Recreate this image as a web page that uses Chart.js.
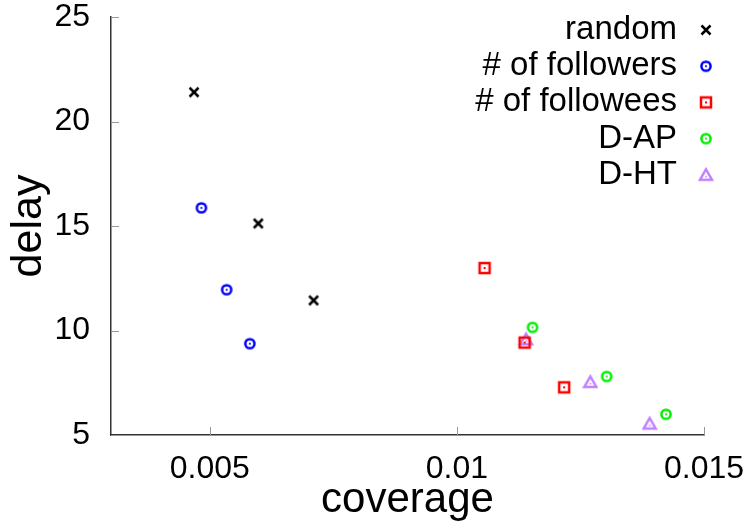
<!DOCTYPE html>
<html>
<head>
<meta charset="utf-8">
<script src="https://cdn.jsdelivr.net/npm/chart.js@4/dist/chart.umd.min.js"></script>
<style>
  html, body { margin: 0; padding: 0; background: #fff; }
  #wrap { width: 750px; height: 525px; }
</style>
</head>
<body>
<div id="wrap"><canvas id="delayChart" width="750" height="525"></canvas></div>
<script>
// series values (coverage, delay)
const randomX = [0.00468, 0.00598, 0.00710];
const randomY = [21.40, 15.12, 11.44];
const followersX = [0.00483, 0.00534, 0.00581];
const followersY = [15.87, 11.95, 9.37];
const followeesX = [0.01056, 0.01137, 0.01217];
const followeesY = [12.99, 9.42, 7.28];
const dapX = [0.01153, 0.01303, 0.01423];
const dapY = [10.15, 7.80, 5.99];
const dhtX = [0.01140, 0.01270, 0.01390];
const dhtY = [9.58, 7.54, 5.55];

const seriesNames = ['random', '# of followers', '# of followees', 'D-AP', 'D-HT'];

// tick labels
const xTickValues = [0.005, 0.01, 0.015];
const xTickLabels = ['0.005', '0.01', '0.015'];
const yTickLabels = ['5', '10', '15', '20', '25'];

const FONT = '"Liberation Sans", Arial, Helvetica, sans-serif';

function makeMarker(kind, color) {
    const c = document.createElement('canvas');
    c.width = 16;
    c.height = 16;
    const ctx = c.getContext('2d');
    ctx.strokeStyle = color;
    ctx.fillStyle = color;
    ctx.lineWidth = 2.5;
    if (kind === 'cross') {
        ctx.beginPath();
        ctx.moveTo(3.5, 3.5); ctx.lineTo(12.5, 12.5);
        ctx.moveTo(12.5, 3.5); ctx.lineTo(3.5, 12.5);
        ctx.stroke();
    } else if (kind === 'circle') {
        ctx.beginPath();
        ctx.arc(8, 8, 4.6, 0, Math.PI * 2);
        ctx.stroke();
        ctx.beginPath();
        ctx.arc(8, 8, 1.1, 0, Math.PI * 2);
        ctx.fill();
    } else if (kind === 'square') {
        ctx.strokeRect(3, 3, 10, 10);
        ctx.fillRect(7, 7, 2, 2);
    } else if (kind === 'triangle') {
        ctx.beginPath();
        ctx.moveTo(8, 2.5);
        ctx.lineTo(14, 13);
        ctx.lineTo(2, 13);
        ctx.closePath();
        ctx.stroke();
        ctx.fillRect(7.3, 9, 1.5, 1.5);
    }
    return c;
}

const markers = [
    makeMarker('cross', '#000000'),
    makeMarker('circle', '#0000ff'),
    makeMarker('square', '#ff0000'),
    makeMarker('circle', '#00ee00'),
    makeMarker('triangle', '#c080ff')
];

function toPoints(xs, ys) {
    return xs.map((x, i) => ({ x: x, y: ys[i] }));
}

const seriesData = [
    toPoints(randomX, randomY),
    toPoints(followersX, followersY),
    toPoints(followeesX, followeesY),
    toPoints(dapX, dapY),
    toPoints(dhtX, dhtY)
];

// short inward tick marks on both axes
const innerTicks = {
    id: 'innerTicks',
    afterDraw(chart) {
        const ctx = chart.ctx;
        const area = chart.chartArea;
        const x = chart.scales.x;
        const y = chart.scales.y;
        ctx.save();
        ctx.strokeStyle = '#999';
        ctx.lineWidth = 1;
        ctx.beginPath();
        x.ticks.forEach(t => {
            const px = Math.round(x.getPixelForValue(t.value)) + 0.5;
            ctx.moveTo(px, area.bottom);
            ctx.lineTo(px, area.bottom - 8);
        });
        y.ticks.forEach(t => {
            const py = Math.round(y.getPixelForValue(t.value)) + 0.5;
            ctx.moveTo(area.left, py);
            ctx.lineTo(area.left + 8, py);
        });
        ctx.stroke();
        ctx.restore();
    }
};

// legend in the top right corner, text right aligned, marker on the right
const cornerLegend = {
    id: 'cornerLegend',
    afterDraw(chart) {
        const ctx = chart.ctx;
        ctx.save();
        ctx.font = '33px ' + FONT;
        ctx.fillStyle = '#000';
        ctx.textAlign = 'right';
        ctx.textBaseline = 'middle';
        chart.data.datasets.forEach((ds, i) => {
            const rowY = 30 + i * 36.2;
            ctx.fillText(ds.label, 677, rowY);
            ctx.drawImage(ds.pointStyle, 706 - 8, rowY - 8);
        });
        ctx.restore();
    }
};

const canvas = document.getElementById('delayChart');

new Chart(canvas, {
    type: 'scatter',
    data: {
        datasets: seriesNames.map((name, i) => ({
            label: name,
            data: seriesData[i],
            pointStyle: markers[i],
            pointRadius: 6,
            showLine: false
        }))
    },
    options: {
        responsive: false,
        animation: false,
        layout: {
            padding: { top: 17, right: 46, bottom: 0, left: 0 }
        },
        plugins: {
            legend: { display: false },
            tooltip: { enabled: false }
        },
        scales: {
            x: {
                type: 'linear',
                min: 0.003,
                max: 0.015,
                afterBuildTicks: (scale) => {
                    scale.ticks = xTickValues.map(v => ({ value: v }));
                },
                afterFit: (scale) => {
                    scale.height = 90;
                    scale.paddingLeft = 0;
                    scale.paddingRight = 0;
                },
                grid: { display: false, drawTicks: false },
                border: { display: true, color: '#333', width: 1.5 },
                ticks: {
                    color: '#000',
                    padding: 18,
                    maxRotation: 0,
                    font: { family: FONT, size: 32, lineHeight: 1 },
                    callback: (value, index) => xTickLabels[index]
                },
                title: {
                    display: true,
                    text: 'coverage',
                    color: '#000',
                    padding: { top: 0, bottom: 3.5 },
                    font: { family: FONT, size: 42, lineHeight: 1 }
                }
            },
            y: {
                type: 'linear',
                min: 5,
                max: 25,
                afterFit: (scale) => {
                    scale.width = 111;
                    scale.paddingTop = 0;
                    scale.paddingBottom = 0;
                },
                grid: { display: false, drawTicks: false },
                border: { display: true, color: '#333', width: 1.5 },
                ticks: {
                    color: '#000',
                    padding: 21,
                    stepSize: 5,
                    font: { family: FONT, size: 32, lineHeight: 1 },
                    callback: (value, index) => yTickLabels[index]
                },
                title: {
                    display: true,
                    text: 'delay',
                    color: '#000',
                    padding: { top: 7.5, bottom: 0 },
                    font: { family: FONT, size: 43, lineHeight: 1 }
                }
            }
        }
    },
    plugins: [innerTicks, cornerLegend]
});
</script>
</body>
</html>
